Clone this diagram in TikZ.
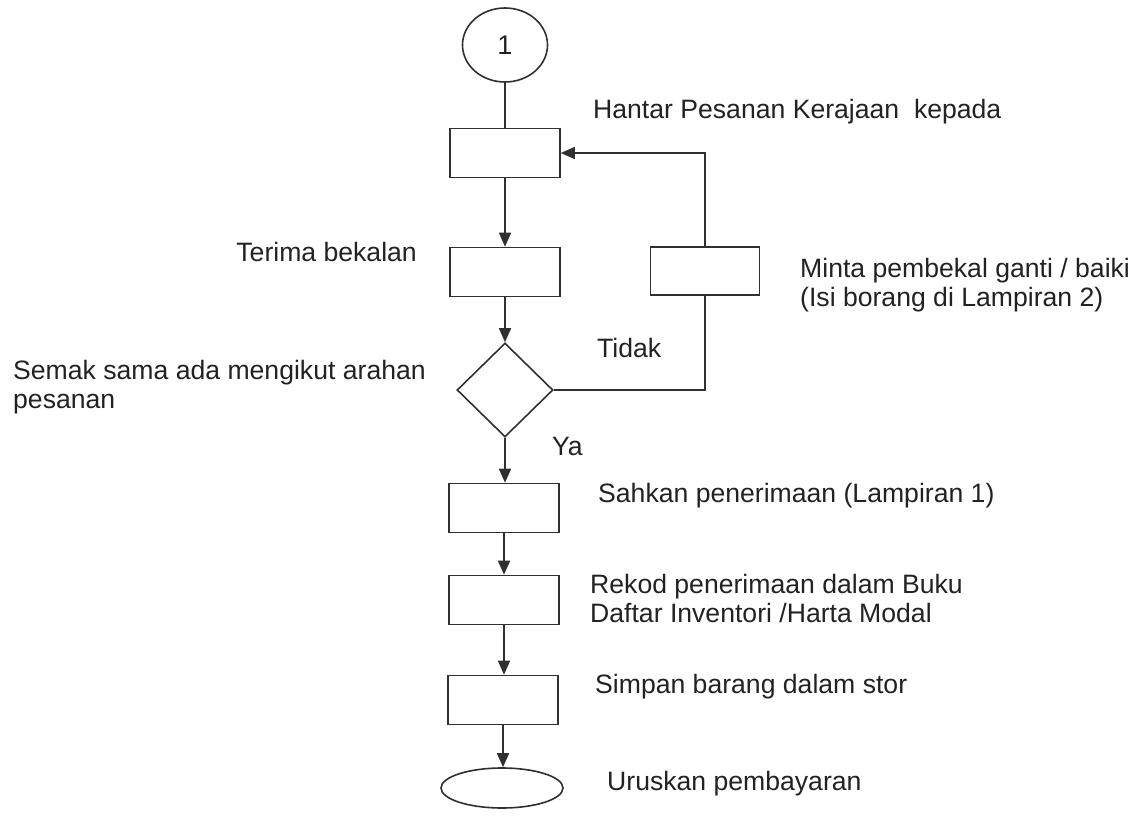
\documentclass[tikz,border=0pt]{standalone}
\usepackage{fontspec}
\setmainfont{Liberation Sans}
\usetikzlibrary{shapes.geometric,arrows.meta}
\definecolor{ink}{HTML}{303030}
\definecolor{txt}{HTML}{222222}
\tikzset{
  box/.style={draw=ink, line width=1.6pt, rectangle, minimum width=110pt, minimum height=49pt, inner sep=0pt},
  term/.style={draw=ink, line width=1.6pt, ellipse, inner sep=0pt},
  decide/.style={draw=ink, line width=1.6pt, diamond, minimum width=96pt, minimum height=94pt, inner sep=0pt},
  lbl/.style={anchor=base west, inner sep=0pt, text=txt, align=left, font=\fontsize{26.6}{29}\selectfont},
  conn/.style={draw=ink, line width=1.6pt},
  arr/.style={conn, -{Triangle[length=14pt,width=12pt]}},
}
\begin{document}
\begin{tikzpicture}[x=1pt,y=-1pt]
\useasboundingbox (0,0) rectangle (1141,816);
\node[term, minimum width=85pt, minimum height=74pt, font=\fontsize{27}{27}\selectfont, text=txt] (c1) at (505,45) {1};
\node[box] (b1) at (505,153) {};
\node[box] (b2) at (505,272) {};
\node[box, minimum width=109pt, minimum height=48pt] (bm) at (705,271) {};
\node[decide] (d) at (505,390) {};
\node[box] (b3) at (504,508) {};
\node[box] (b4) at (504,600) {};
\node[box] (b5) at (503,700) {};
\node[term, minimum width=122pt, minimum height=40pt] (e) at (502,788) {};

\draw[conn] (c1.south) -- (b1.north);
\draw[arr] (b1.south) -- (b2.north);
\draw[arr] (b2.south) -- (d.north);
\draw[arr] (d.south) -- (d.south |- b3.north);
\draw[arr] (b3.south) -- (b4.north);
\draw[arr] (b4.south) -- (b4.south |- b5.north);
\draw[arr] (b5.south) -- (b5.south |- e.north);
\draw[conn] (d.east) -- (bm.south |- d.east) -- (bm.south);
\draw[arr] (bm.north) -- (bm.north |- b1.east) -- (b1.east);

\node[lbl] (t1) at (593,118) {Hantar Pesanan Kerajaan\ \ kepada};
\node[lbl, anchor=base east] (t2) at (417,261) {Terima bekalan};
\node[lbl] (t3) at (800,306) {Minta pembekal ganti / baiki\\(Isi borang di Lampiran 2)};
\node[lbl] (t4) at (13,408) {Semak sama ada mengikut arahan\\pesanan};
\node[lbl] (t5) at (597,357) {Tidak};
\node[lbl] (t6) at (552,455) {Ya};
\node[lbl] (t7) at (598,502) {Sahkan penerimaan (Lampiran 1)};
\node[lbl] (t8) at (590,622) {Rekod penerimaan dalam Buku\\Daftar Inventori /Harta Modal};
\node[lbl] (t9) at (595,693) {Simpan barang dalam stor};
\node[lbl] (t10) at (607,790) {Uruskan pembayaran};
\end{tikzpicture}
\end{document}
